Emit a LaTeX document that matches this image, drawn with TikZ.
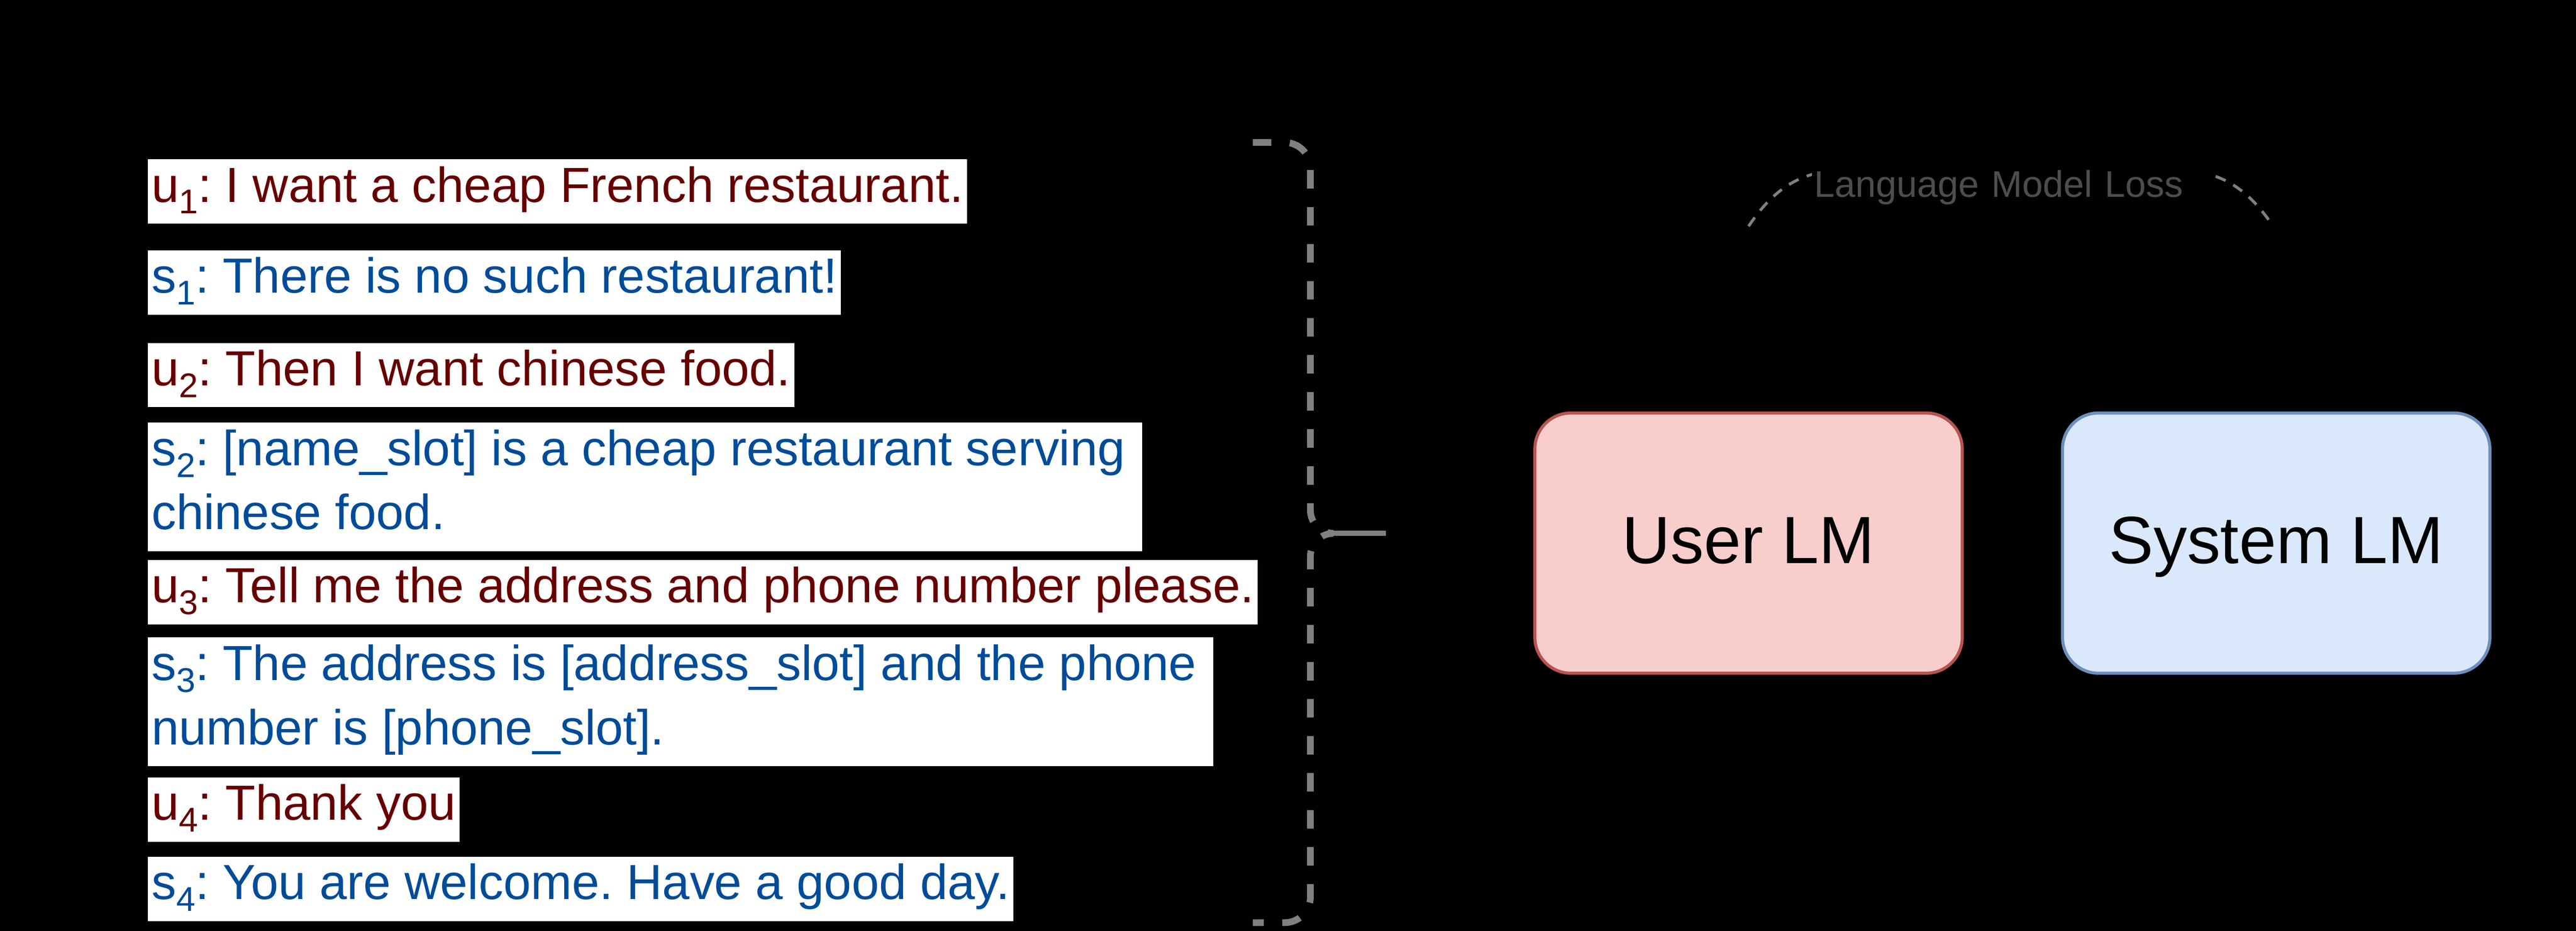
\documentclass[tikz,border=0pt]{standalone}
\usepackage{fontspec}
\setmainfont{Liberation Sans}
\usepackage{tikz}
\usetikzlibrary{positioning}
\definecolor{usrred}{HTML}{660000}
\definecolor{sysblue}{HTML}{004C99}
\definecolor{usrfill}{HTML}{F8CECC}
\definecolor{usrline}{HTML}{B85450}
\definecolor{sysfill}{HTML}{DAE8FC}
\definecolor{sysline}{HTML}{6C8EBF}
\definecolor{dashgray}{HTML}{808080}
\definecolor{lossgray}{HTML}{4D4D4D}
\frenchspacing
\newcommand\dlgfont{\fontsize{27.3pt}{35.57pt}\selectfont}
\newcommand\dstrut{\rule[-0.42cm]{0pt}{1.25cm}}
\newcommand\idx[1]{\raisebox{-0.23cm}{\fontsize{19pt}{19pt}\selectfont #1}}
\tikzset{
    dlgturn/.style={anchor=north west, fill=white, inner xsep=0.07cm, inner ysep=0pt, align=left, font=\dlgfont}, % one turn of the dialogue
    usr/.style={dlgturn, text=usrred}, % user turn
    sys/.style={dlgturn, text=sysblue}, % system turn
    lm/.style={draw, rounded corners=0.7cm, line width=0.06cm, minimum width=8.31cm, minimum height=5.06cm, text height=0.95cm, text depth=0.17cm, font=\fontsize{37pt}{44pt}\selectfont}, % the two models
    bracket/.style={dashgray, line width=0.13cm, dash pattern=on 0.36cm off 0.36cm}, % dashed brace
    lossline/.style={dashgray, line width=0.055cm, dash pattern=on 0.21cm off 0.17cm} % loss arc
}
\begin{document}
\begin{tikzpicture}
            \def\W{50.09} \def\H{18.10}
            \fill[black] (0,0) rectangle (\W,-\H);

            \node[usr] (u1) at (2.87,-3.09) {\dstrut u\idx{1}: I want a cheap French restaurant.};
            \node[sys] (s1) at (2.87,-4.86) {\dstrut s\idx{1}: There is no such restaurant!};
            \node[usr] (u2) at (2.87,-6.66) {\dstrut u\idx{2}: Then I want chinese food.};
            \node[sys] (s2) at (2.87,-8.21) {\makebox[19.19cm][l]{\dstrut s\idx{2}: [name\_slot] is a cheap restaurant serving}\\\dstrut chinese food.};
            \node[usr] (u3) at (2.87,-10.88) {\dstrut u\idx{3}: Tell me the address and phone number please.};
            \node[sys] (s3) at (2.87,-12.39) {\makebox[20.57cm][l]{\dstrut s\idx{3}: The address is [address\_slot] and the phone}\\\dstrut number is [phone\_slot].};
            \node[usr] (u4) at (2.87,-15.11) {\dstrut u\idx{4}: Thank you};
            \node[sys] (s4) at (2.87,-16.65) {\dstrut s\idx{4}: You are welcome. Have a good day.};

            \draw[bracket] (24.36,-2.77) -- (24.98,-2.77) arc[start angle=90, end angle=0, radius=0.5cm] -- (25.48,-9.92)
                arc[start angle=180, end angle=270, radius=0.45cm] coordinate (tip)
                arc[start angle=90, end angle=180, radius=0.45cm] -- (25.48,-17.44)
                arc[start angle=0, end angle=-90, radius=0.5cm] -- (24.36,-17.94);
            \coordinate (tail) at (26.95,-10.37);
            \draw[dashgray, line width=0.1cm] (tip) -- (tail);

            \node[lm, fill=usrfill, draw=usrline] (user) at (34.0,-10.56) {User LM};
            \node[lm, fill=sysfill, draw=sysline, right=1.89cm of user] (system) {System LM};

            \coordinate (lossl) at (34.0,-4.40);
            \coordinate (lossr) at (44.2,-4.40);
            \draw[lossline] (lossl) .. controls (34.6,-3.5) and (35.2,-3.3) .. (36.0,-3.3) -- (42.2,-3.3) .. controls (43.0,-3.3) and (43.6,-3.5) .. (lossr);
            \node[fill=black, text=lossgray, text width=7.69cm, align=left, inner xsep=0.05cm, text height=0.55cm, text depth=0.15cm, font=\fontsize{20.5pt}{24pt}\selectfont] (loss) at (39.125,-3.63) {Language Model Loss};
        \end{tikzpicture}
\end{document}
